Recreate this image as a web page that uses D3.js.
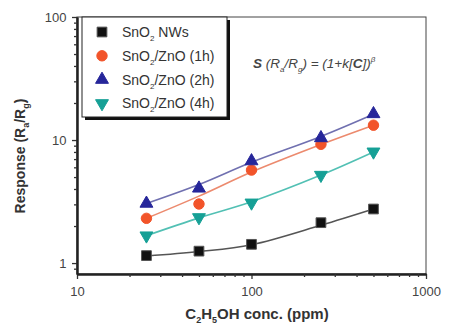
<!DOCTYPE html>
<html>
<head>
<meta charset="utf-8">
<script src="https://cdn.jsdelivr.net/npm/d3@7"></script>
<style>
  body { margin: 0; background: #fff; }
  text { font-family: "Liberation Sans", Arial, sans-serif; }
</style>
</head>
<body>
<div id="chart"></div>
<script>
// concentrations (ppm) and measured responses
var conc = [25, 50, 100, 250, 500];
var nws = [1.15, 1.25, 1.42, 2.13, 2.75];
var zno1h = [2.31, 3.02, 5.7, 9.23, 13.2];
var zno2h = [3.05, 4.05, 6.75, 10.4, 16.3];
var zno4h = [1.67, 2.35, 3.09, 5.19, 8.03];

// fitted curves at the same concentrations
var nwsFit = [1.14, 1.24, 1.41, 2.03, 2.75];
var zno1hFit = [2.31, 3.5, 5.5, 9.2, 13.2];
var zno2hFit = [3.05, 4.35, 6.6, 10.7, 16.2];
var zno4hFit = [1.67, 2.33, 3.15, 5.19, 8.0];

var xTicks = [10, 100, 1000];
var yTicks = [1, 10, 100];

var width = 449, height = 330;
var svg = d3.select("#chart").append("svg")
    .attr("width", width)
    .attr("height", height);

var x = d3.scaleLog().domain([10, 1000]).range([77, 426]);
var y = d3.scaleLog().domain([0.815, 100]).range([274, 17]);

var series = [
  { vals: nws, fit: nwsFit, sym: d3.symbolSquare, size: 95, rot: 0, fill: "#111", stroke: "#555", line: "#555" },
  { vals: zno1h, fit: zno1hFit, sym: d3.symbolCircle, size: 85, rot: 0, fill: "#f2542a", stroke: "#f2542a", line: "#ec8a6e" },
  { vals: zno2h, fit: zno2hFit, sym: d3.symbolTriangle, size: 72, rot: 0, fill: "#26269a", stroke: "#26269a", line: "#7070b0" },
  { vals: zno4h, fit: zno4hFit, sym: d3.symbolTriangle, size: 72, rot: 180, fill: "#16a096", stroke: "#16a096", line: "#52c0b4" }
];

// frame (top / right)
svg.append("rect")
    .attr("x", x.range()[0]).attr("y", y.range()[1])
    .attr("width", x.range()[1] - x.range()[0])
    .attr("height", y.range()[0] - y.range()[1])
    .attr("fill", "none").attr("stroke", "#444").attr("stroke-width", 1);

// x axis
var xMinor = [];
[10, 100].forEach(function (d) { for (var i = 2; i <= 9; i++) xMinor.push(d * i); });
var gx = svg.append("g").attr("transform", "translate(0," + y.range()[0] + ")");
gx.call(d3.axisBottom(x).tickValues(xTicks).tickFormat(d3.format("d")).tickSize(5).tickSizeOuter(0));
gx.append("g").call(d3.axisBottom(x).tickValues(xMinor).tickFormat("").tickSize(3).tickSizeOuter(0));

// y axis
var yMinor = [0.9];
[1, 10].forEach(function (d) { for (var i = 2; i <= 9; i++) yMinor.push(d * i); });
var gy = svg.append("g").attr("transform", "translate(" + x.range()[0] + ",0)");
gy.call(d3.axisLeft(y).tickValues(yTicks).tickFormat(d3.format("d")).tickSize(5).tickSizeOuter(0));
gy.append("g").call(d3.axisLeft(y).tickValues(yMinor).tickFormat("").tickSize(3).tickSizeOuter(0));

svg.selectAll(".domain").attr("stroke", "#222").attr("stroke-width", 2);
svg.selectAll(".tick line").attr("stroke", "#333").attr("stroke-width", 1.3);
svg.selectAll(".tick text").attr("fill", "#444").style("font-size", "13px");
gx.selectAll(".tick text").attr("dy", "1.05em");
gy.selectAll(".tick text").attr("dx", "-0.2em");

// fit curves
var line = d3.line()
    .x(function (d) { return x(d[0]); })
    .y(function (d) { return y(d[1]); })
    .curve(d3.curveCatmullRom.alpha(0.5));

series.forEach(function (s) {
  svg.append("path")
      .datum(conc.map(function (c, i) { return [c, s.fit[i]]; }))
      .attr("d", line)
      .attr("fill", "none")
      .attr("stroke", s.line)
      .attr("stroke-width", 1.6);
});

// markers
series.forEach(function (s) {
  svg.append("g").selectAll("path")
      .data(conc.map(function (c, i) { return [c, s.vals[i]]; }))
      .enter().append("path")
      .attr("d", d3.symbol().type(s.sym).size(s.size))
      .attr("transform", function (d) {
        return "translate(" + x(d[0]) + "," + y(d[1]) + ") rotate(" + s.rot + ")";
      })
      .attr("fill", s.fill)
      .attr("stroke", s.stroke)
      .attr("stroke-width", 1);
});

// legend
var lg = svg.append("g");
lg.append("rect").attr("x", 85).attr("y", 20).attr("width", 145).attr("height", 100).attr("fill", "#111");
lg.append("rect").attr("x", 82).attr("y", 17).attr("width", 145).attr("height", 100)
    .attr("fill", "#fff").attr("stroke", "#222").attr("stroke-width", 1);

var labels = [
  ["SnO", "2", " NWs"],
  ["SnO", "2", "/ZnO (1h)"],
  ["SnO", "2", "/ZnO (2h)"],
  ["SnO", "2", "/ZnO (4h)"]
];
series.forEach(function (s, i) {
  var ly = 32 + i * 23.8;
  lg.append("path")
      .attr("d", d3.symbol().type(s.sym).size(s.size))
      .attr("transform", "translate(102," + ly + ") rotate(" + s.rot + ")")
      .attr("fill", s.fill).attr("stroke", s.stroke);
  var t = lg.append("text").attr("x", 122).attr("y", ly + 5)
      .attr("fill", "#333").style("font-size", "14px");
  t.append("tspan").text(labels[i][0]);
  t.append("tspan").attr("dy", 4).style("font-size", "8px").text(labels[i][1]);
  t.append("tspan").attr("dy", -4).text(labels[i][2]);
});

// equation
var eq = svg.append("text").attr("x", 253).attr("y", 68)
    .attr("fill", "#444").style("font-size", "13.5px").style("font-style", "italic").style("font-weight", "bold");
eq.append("tspan").text("S ");
eq.append("tspan").style("font-weight", "normal").text("(R");
eq.append("tspan").attr("dy", 4).style("font-size", "8px").style("font-weight", "normal").text("a");
eq.append("tspan").attr("dy", -4).style("font-weight", "normal").text("/R");
eq.append("tspan").attr("dy", 4).style("font-size", "8px").style("font-weight", "normal").text("g");
eq.append("tspan").attr("dy", -4).style("font-weight", "normal").text(") = (1+k[");
eq.append("tspan").text("C");
eq.append("tspan").style("font-weight", "normal").text("])");
eq.append("tspan").attr("dy", -6).style("font-size", "8px").style("font-weight", "normal").text("β");

// axis titles
var xt = svg.append("text").attr("x", 257).attr("y", 319).attr("text-anchor", "middle")
    .attr("fill", "#333").style("font-size", "15px").style("font-weight", "bold");
xt.append("tspan").text("C");
xt.append("tspan").attr("dy", 4).style("font-size", "9px").text("2");
xt.append("tspan").attr("dy", -4).text("H");
xt.append("tspan").attr("dy", 4).style("font-size", "9px").text("5");
xt.append("tspan").attr("dy", -4).text("OH conc. (ppm)");

var yt = svg.append("text").attr("transform", "translate(25,156) rotate(-90)").attr("text-anchor", "middle")
    .attr("fill", "#333").style("font-size", "14px").style("font-weight", "bold");
yt.append("tspan").text("Response (R");
yt.append("tspan").attr("dy", 4).style("font-size", "9px").text("a");
yt.append("tspan").attr("dy", -4).text("/R");
yt.append("tspan").attr("dy", 4).style("font-size", "9px").text("g");
yt.append("tspan").attr("dy", -4).text(")");
</script>
</body>
</html>
